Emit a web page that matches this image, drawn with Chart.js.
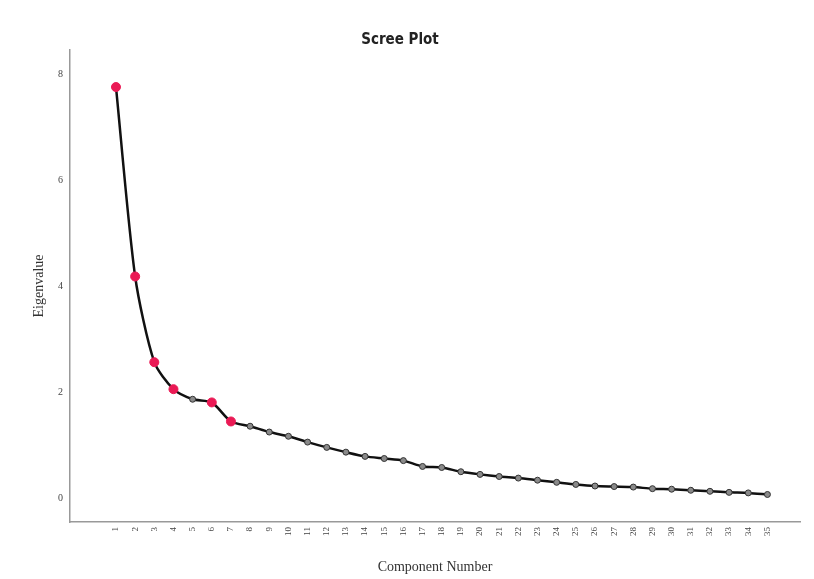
<!DOCTYPE html>
<html>
<head>
<meta charset="utf-8">
<script src="https://cdn.jsdelivr.net/npm/chart.js@4"></script>
<style>
    html, body { margin: 0; padding: 0; background: #fff; }
    #wrap { width: 814px; height: 579px; }
</style>
</head>
<body>
<div id="wrap"><canvas id="scree-chart"></canvas></div>
<script>
const components = [1, 2, 3, 4, 5, 6, 7, 8, 9, 10, 11, 12, 13, 14, 15, 16, 17, 18, 19, 20,
    21, 22, 23, 24, 25, 26, 27, 28, 29, 30, 31, 32, 33, 34, 35];
const eigenvalues = [7.77, 4.19, 2.57, 2.06, 1.87, 1.81, 1.45, 1.36, 1.25, 1.17,
    1.06, 0.96, 0.87, 0.79, 0.75, 0.71, 0.60, 0.58, 0.50, 0.45,
    0.41, 0.38, 0.34, 0.30, 0.26, 0.23, 0.22, 0.21, 0.18, 0.17,
    0.15, 0.13, 0.11, 0.10, 0.07];
// components drawn with a red marker
const highlighted = [1, 2, 3, 4, 6, 7];
const yTicks = [0, 2, 4, 6, 8];

const serif = "'Liberation Serif', 'DejaVu Serif', serif";
const isRed = c => highlighted.includes(c);

new Chart(document.getElementById("scree-chart"), {
    type: 'line',
    data: {
        datasets: [
            {
                label: "Eigenvalue",
                borderColor: "#111",
                borderWidth: 2.5,
                tension: 0.25,
                pointRadius: components.map(c => isRed(c) ? 4.5 : 3),
                pointBackgroundColor: components.map(c => isRed(c) ? "#ea1a55" : "#8a8a8a"),
                pointBorderColor: components.map(c => isRed(c) ? "#ea1a55" : "#333"),
                pointBorderWidth: 1,
                data: components.map((c, i) => ({ x: c, y: eigenvalues[i] }))
            }
        ]
    },
    options: {
        animation: false,
        responsive: true,
        maintainAspectRatio: false,
        layout: {
            padding: { left: 0, right: 14, top: 0, bottom: 0 }
        },
        plugins: {
            legend: { display: false },
            tooltip: { enabled: false },
            title: {
                display: true,
                text: "Scree Plot",
                color: "#222",
                font: { family: "'DejaVu Sans Condensed', 'DejaVu Sans', sans-serif", size: 15, weight: 'bold' },
                padding: { top: 31, bottom: 1 }
            }
        },
        scales: {
            x: {
                type: 'linear',
                min: -1.4,
                max: 36.7,
                afterBuildTicks: axis => { axis.ticks = components.map(v => ({ value: v })); },
                afterFit: scale => { scale.height = 57; },
                grid: { display: false, drawTicks: false },
                border: { display: true, color: "#999", width: 1.5 },
                ticks: {
                    autoSkip: false,
                    minRotation: 90,
                    maxRotation: 90,
                    padding: 5,
                    color: "#444",
                    font: { family: serif, size: 9 }
                },
                title: {
                    display: true,
                    text: "Component Number",
                    color: "#333",
                    font: { family: serif, size: 14 },
                    padding: { top: 0, bottom: 3 }
                }
            },
            y: {
                min: -0.45,
                max: 8.47,
                afterBuildTicks: axis => { axis.ticks = yTicks.map(v => ({ value: v })); },
                afterFit: scale => { scale.width = 70; },
                grid: { display: false, drawTicks: false },
                border: { display: true, color: "#999", width: 1.5 },
                ticks: {
                    padding: 7,
                    color: "#444",
                    font: { family: serif, size: 10 }
                },
                title: {
                    display: true,
                    text: "Eigenvalue",
                    color: "#333",
                    font: { family: serif, size: 14 },
                    padding: { top: 31, bottom: 0 }
                }
            }
        }
    }
});
</script>
</body>
</html>
